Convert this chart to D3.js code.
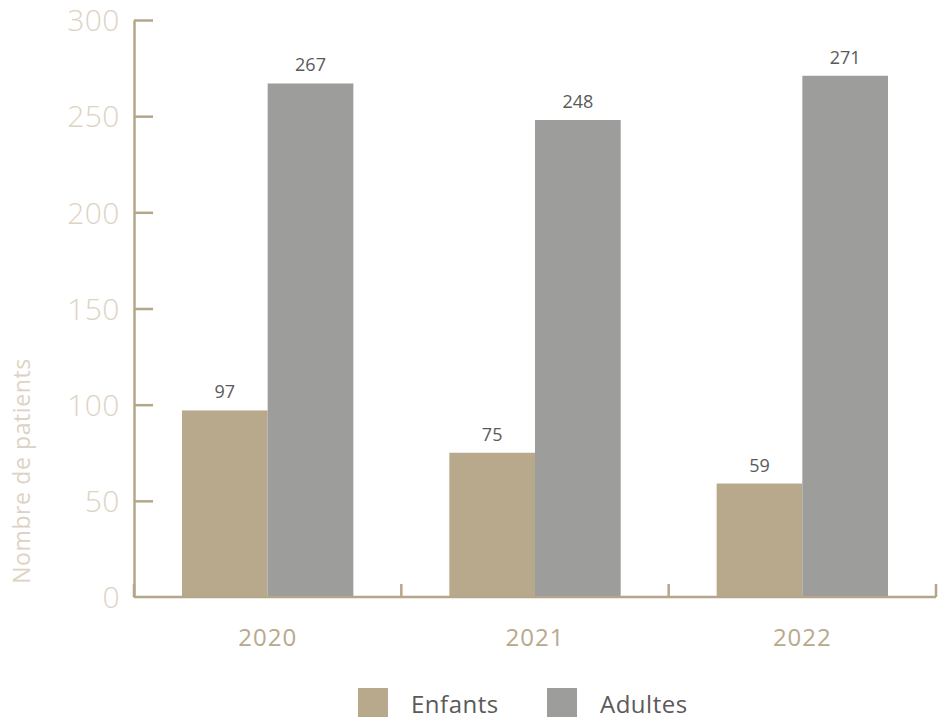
<!DOCTYPE html>
<html>
<head>
<meta charset="utf-8">
<script src="https://cdn.jsdelivr.net/npm/d3@7"></script>
<style>
  html, body { margin: 0; padding: 0; background: #fff; }
  svg { display: block; }
</style>
</head>
<body>
<script>
// Patient counts per year, split by age group
const years = ["2020", "2021", "2022"];
const seriesNames = ["Enfants", "Adultes"];
const enfants = [97, 75, 59];
const adultes = [267, 248, 271];
const yTicks = [0, 50, 100, 150, 200, 250, 300];
const seriesColors = ["#b8a98c", "#9d9d9c"];

const width = 941, height = 720;
const margin = { left: 134, right: 5, top: 20, bottom: 123 };

const svg = d3.select("body").append("svg")
  .attr("width", width).attr("height", height);

const x0 = d3.scaleBand()
  .domain(years)
  .range([margin.left, width - margin.right])
  .padding(0);

const x1 = d3.scaleBand()
  .domain(seriesNames)
  .range([0, x0.bandwidth()])
  .paddingInner(0)
  .paddingOuter(0.56);

const y = d3.scaleLinear()
  .domain([0, 300])
  .range([height - margin.bottom, margin.top]);

const axisColor = "#b5a68a";

// Y axis with ticks pointing into the plot
const yAxis = svg.append("g")
  .attr("transform", `translate(${margin.left},0)`)
  .call(d3.axisRight(y).tickValues(yTicks).tickSize(19).tickSizeOuter(0).tickFormat(d3.format("d")));
yAxis.select(".domain").attr("stroke", axisColor).attr("stroke-width", 2.5);
yAxis.selectAll(".tick line").attr("stroke", axisColor).attr("stroke-width", 2.5);
yAxis.selectAll(".tick text")
  .attr("x", -14)
  .attr("text-anchor", "end")
  .attr("dy", "0.36em")
  .attr("fill", "#ddd3c4")
  .style("font-family", "'Open Sans', sans-serif")
  .style("font-weight", 300)
  .style("font-size", "30px")
  .style("letter-spacing", "0.5px");
yAxis.selectAll(".tick").filter(d => d === 0).select("line").remove();

// Bars
const groups = svg.append("g").selectAll("g")
  .data(years)
  .join("g")
  .attr("transform", d => `translate(${x0(d)},0)`);

const rows = years.map((yr, i) => [
  { key: "Enfants", value: enfants[i] },
  { key: "Adultes", value: adultes[i] }
]);

groups.selectAll("rect")
  .data((d, i) => rows[i])
  .join("rect")
  .attr("x", d => x1(d.key))
  .attr("y", d => y(d.value))
  .attr("width", x1.bandwidth())
  .attr("height", d => y(0) - y(d.value))
  .attr("fill", d => seriesColors[seriesNames.indexOf(d.key)]);

groups.selectAll("text.val")
  .data((d, i) => rows[i])
  .join("text")
  .attr("class", "val")
  .attr("x", d => x1(d.key) + x1.bandwidth() / 2)
  .attr("y", d => y(d.value) - 12)
  .attr("text-anchor", "middle")
  .attr("fill", "#5a5a5a")
  .style("font-family", "'Open Sans', sans-serif")
  .style("font-size", "18px")
  .text(d => d.value);

// X axis with upward ticks at band boundaries
const xEdges = years.map(d => x0(d)).concat([x0(years[years.length - 1]) + x0.bandwidth()]);
const xb = svg.append("g");
xb.append("line")
  .attr("x1", x0.range()[0]).attr("x2", x0.range()[1])
  .attr("y1", y(0)).attr("y2", y(0))
  .attr("stroke", axisColor).attr("stroke-width", 2.5);
xb.selectAll("line.tk")
  .data(xEdges)
  .join("line")
  .attr("class", "tk")
  .attr("x1", d => d).attr("x2", d => d)
  .attr("y1", y(0)).attr("y2", y(0) - 13)
  .attr("stroke", axisColor).attr("stroke-width", 2.5);
xb.selectAll("text")
  .data(years)
  .join("text")
  .attr("x", d => x0(d) + x0.bandwidth() / 2)
  .attr("y", 646)
  .attr("text-anchor", "middle")
  .attr("fill", "#b8a98c")
  .style("font-family", "'Open Sans', sans-serif")
  .style("font-size", "24px")
  .style("letter-spacing", "1px")
  .text(d => d);

// Y axis title
svg.append("text")
  .attr("transform", `translate(30,471) rotate(-90)`)
  .attr("text-anchor", "middle")
  .attr("fill", "#ddd3c4")
  .style("font-family", "'Open Sans', sans-serif")
  .style("font-size", "23px")
  .style("letter-spacing", "0.6px")
  .text("Nombre de patients");

// Legend
const legendX = [358, 547];
const legend = svg.append("g").selectAll("g")
  .data(seriesNames)
  .join("g")
  .attr("transform", (d, i) => `translate(${legendX[i]},688)`);
legend.append("rect")
  .attr("width", 30).attr("height", 29)
  .attr("fill", (d, i) => seriesColors[i]);
legend.append("text")
  .attr("x", 53).attr("y", 25)
  .attr("fill", "#5a5a5a")
  .style("font-family", "'Open Sans', sans-serif")
  .style("font-size", "24px")
  .style("letter-spacing", "0.5px")
  .text(d => d);
</script>
</body>
</html>
